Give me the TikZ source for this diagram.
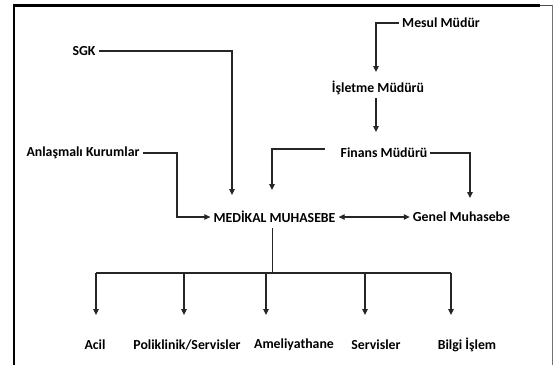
\documentclass[tikz,border=0pt]{standalone}
\usepackage{fontspec}
\setmainfont{Carlito}
\usetikzlibrary{arrows.meta,calc}
\begin{document}
\begin{tikzpicture}[x=1pt,y=-1pt,
  lbl/.style={font=\fontsize{13.8}{15}\selectfont\bfseries, inner sep=3pt},
  conn/.style={line width=1.1pt, draw=black!85},
  arr/.style={conn, -{Triangle[length=6pt,width=5.5pt]}},
  arrr/.style={conn, {Triangle[length=6pt,width=5.5pt]}-{Triangle[length=6pt,width=5.5pt]}}]
\useasboundingbox (0,0) rectangle (555,365);
% frame
\draw[line width=2.6pt] (14,365) -- (14,5.5) -- (540,5.5);
\draw[line width=1.6pt, black!70] (540,5.5) -- (552,5.5);
\draw[line width=0.9pt, black!55] (552,5) -- (552,365);
% nodes
\node[lbl] (mm)  at (441,23)  {Mesul Müdür};
\node[lbl] (ism) at (378,88)  {İşletme Müdürü};
\node[lbl] (sgk) at (84,51)   {SGK};
\node[lbl] (ak)  at (83,153)  {Anlaşmalı Kurumlar};
\node[lbl] (fm)  at (384,153) {Finans Müdürü};
\node[lbl] (med) at (274.5,217) {MEDİKAL MUHASEBE};
\node[lbl] (gm)  at (461.5,217) {Genel Muhasebe};
\node[lbl] (l1)  at (95,345)  {Acil};
\node[lbl] (l2)  at (187,345) {Poliklinik/Servisler};
\node[lbl] (l3)  at (294,345) {Ameliyathane};
\node[lbl] (l4)  at (376,345) {Servisler};
\node[lbl] (l5)  at (467,345) {Bilgi İşlem};
% coordinates
\coordinate (akbend) at (177,153);
\coordinate (bus) at (272,273);
\coordinate (b1) at (96,273);
\coordinate (b2) at (184,273);
\coordinate (b3) at (266,273);
\coordinate (b4) at (365,273);
\coordinate (b5) at (451,273);
% connectors
\draw[arr] (mm.west) -| ($(ism)+(-2,-16)$);
\draw[arr] (ism.south -| 376,0) -- ($(fm)+(-8,-21)$);
\draw[arr] (sgk.east) -| ($(med)+(-42.5,-22)$);
\draw[arr] ($(fm.west)+(-13,-4)$) -| ($(med)+(-2.5,-27)$);
\draw[arr] (fm.east) -| ($(gm)+(8.5,-19)$);
\draw[arr] (ak.east) -- (akbend) |- (med.west);
\draw[arrr] (med.east) -- (gm.west);
\draw[conn, line width=0.8pt] ($(med.south)+(-2.5,2)$) -- (bus);
\draw[conn] (b1) -- (b5);
\draw[arr] (b1) -- ($(b1 |- l1)+(0,-30)$);
\draw[arr] (b2) -- ($(b2 |- l2)+(0,-30)$);
\draw[arr] (b3) -- ($(b3 |- l3)+(0,-30)$);
\draw[arr] (b4) -- ($(b4 |- l4)+(0,-30)$);
\draw[arr] (b5) -- ($(b5 |- l5)+(0,-30)$);
\end{tikzpicture}
\end{document}
